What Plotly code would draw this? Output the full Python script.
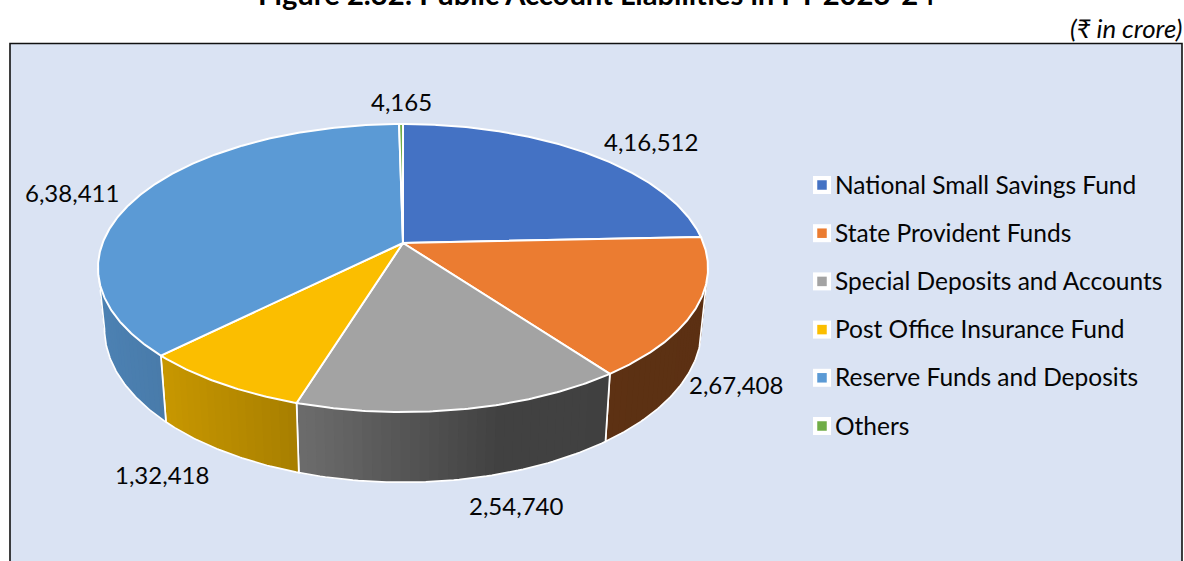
import numpy as np
import plotly.graph_objects as go

# Public account liabilities, FY 2023-24 (in crore of rupees)
categories = [
    "National Small Savings Fund",
    "State Provident Funds",
    "Special Deposits and Accounts",
    "Post Office Insurance Fund",
    "Reserve Funds and Deposits",
    "Others",
]
values = [416512, 267408, 254740, 132418, 638411, 4165]
slice_colors = ["#4472C4", "#EB7C31", "#A3A3A3", "#FBBE00", "#5B9AD5", "#70AD47"]

TITLE = "Figure 2.32: Public Account Liabilities in FY 2023-24"
UNIT_NOTE = "(₹ in crore)"

FONT = "Lato"
LEGEND_SIZE = 24.5
VALUE_SIZE = 24

# Perspective of the tilted disc, in page pixels
CX, CY = 403.0, 243.0
KEYSTONE = 0.1736
TOP_RX, TOP_RY = 300.4, 139.66
BASE_RX, BASE_RY, BASE_CY = 294.0, 149.0, 302.0

# Centres of the value labels, in the order of the slices
label_centres = [(651, 141), (735.5, 384), (516, 505), (162, 474), (72, 192), (401, 101)]

# Legend rows
LEGEND_X = 822
LEGEND_TEXT_X = 833
LEGEND_FIRST_Y = 184
LEGEND_STEP = 48.2


def indian_format(n):
    s = str(n)
    if len(s) <= 3:
        return s
    head, tail = s[:-3], s[-3:]
    groups = []
    while len(head) > 2:
        groups.insert(0, head[-2:])
        head = head[:-2]
    if head:
        groups.insert(0, head)
    return ",".join(groups + [tail])


def rim(theta, rx, ry, cy):
    """Project clockwise-from-north angles onto a receding circle."""
    u, v = np.sin(theta), np.cos(theta)
    w = 1 + KEYSTONE * v
    return CX + rx * u / w, cy - ry * v / w


def top_rim(theta):
    return rim(theta, TOP_RX, TOP_RY, CY)


def base_rim(theta):
    return rim(theta, BASE_RX, BASE_RY, BASE_CY)


def wall_shade(x):
    return np.interp(x, [100, 161, 298, 500, 700], [0.84, 0.80, 0.667, 0.40, 0.39])


def scaled_rgb(hex_color, factor):
    r, g, b = (int(hex_color[i:i + 2], 16) for i in (1, 3, 5))
    return f"rgb({r * factor:.0f},{g * factor:.0f},{b * factor:.0f})"


fractions = np.array(values) / sum(values)
edges = np.concatenate([[0], np.cumsum(fractions)]) * 2 * np.pi

# The wall turns out of sight at these angles, where the rim has its side extremes
WALL_START = np.radians(100)
WALL_END = np.radians(260)
STEP = np.radians(1.5)

fig = go.Figure()

# Side wall: overlapping shaded strips, so the shade can run across each slice
for i, colour in enumerate(slice_colors):
    a = max(edges[i], WALL_START)
    b = min(edges[i + 1], WALL_END)
    if b <= a:
        continue
    ticks = np.linspace(a, b, max(int((b - a) / STEP), 1) + 1)
    for t0, t1 in zip(ticks[:-1], ticks[1:]):
        # each strip reaches into the next one, and the next paints over the overlap
        reach = min(t1 + STEP, b)
        arc = np.linspace(t0, reach, 4)
        tx, ty = top_rim(arc)
        bx, by = base_rim(arc)
        shade = scaled_rgb(colour, wall_shade((tx[0] + tx[1] + bx[0] + bx[1]) / 4))
        fig.add_trace(go.Scatter(
            x=np.concatenate([tx, bx[::-1], tx[:1]]),
            y=np.concatenate([ty, by[::-1], ty[:1]]),
            mode="lines", fill="toself", fillcolor=shade,
            line=dict(width=0),
            hoverinfo="skip", showlegend=False,
        ))
    # White outline along the base and up both ends of the wall
    arc = np.linspace(a, b, 60)
    tx, ty = top_rim(arc)
    bx, by = base_rim(arc)
    fig.add_trace(go.Scatter(
        x=np.concatenate([[tx[0]], bx, [tx[-1]]]),
        y=np.concatenate([[ty[0]], by, [ty[-1]]]),
        mode="lines", line=dict(color="white", width=1.7),
        hoverinfo="skip", showlegend=False,
    ))

# Top face of the disc
for i, colour in enumerate(slice_colors):
    arc = np.linspace(edges[i], edges[i + 1], max(int(np.degrees(edges[i + 1] - edges[i])) * 2, 2))
    rx_, ry_ = top_rim(arc)
    fig.add_trace(go.Scatter(
        x=np.concatenate([[CX], rx_, [CX]]),
        y=np.concatenate([[CY], ry_, [CY]]),
        mode="lines", fill="toself", fillcolor=colour,
        line=dict(color="white", width=2),
        name=categories[i],
        hovertemplate=f"{categories[i]}: {indian_format(values[i])}<extra></extra>",
        showlegend=False,
    ))

# Legend keys: a colour chip on a white tile
rows = [LEGEND_FIRST_Y + 1 + LEGEND_STEP * i for i in range(len(categories))]
fig.add_trace(go.Scatter(
    x=[LEGEND_X] * len(rows), y=rows, mode="markers",
    marker=dict(symbol="square", size=18, color="white"),
    hoverinfo="skip", showlegend=False,
))
fig.add_trace(go.Scatter(
    x=[LEGEND_X] * len(rows), y=rows, mode="markers",
    marker=dict(symbol="square", size=9.5, color=slice_colors),
    hoverinfo="skip", showlegend=False,
))

annotations = []
for name, y in zip(categories, rows):
    annotations.append(dict(
        x=LEGEND_TEXT_X, y=y - 1, text=name, xref="x", yref="y", showarrow=False,
        xanchor="left", yanchor="middle", font=dict(family=FONT, size=LEGEND_SIZE, color="#050505"),
    ))
for value, (lx, ly) in zip(values, label_centres):
    annotations.append(dict(
        x=lx, y=ly, text=indian_format(value), xref="x", yref="y", showarrow=False,
        xanchor="center", yanchor="middle", font=dict(family=FONT, size=VALUE_SIZE, color="#050505"),
    ))
annotations.append(dict(
    x=596, y=13, text=f"<b>{TITLE}</b>", xref="x", yref="y", showarrow=False,
    xanchor="center", yanchor="bottom", font=dict(family=FONT, size=29.2, color="black"),
))
annotations.append(dict(
    x=1183.5, y=28, text=UNIT_NOTE, xref="x", yref="y", showarrow=False,
    xanchor="right", yanchor="middle", font=dict(family=FONT, size=25.8, style="italic", color="#050505"),
))

fig.update_layout(
    width=1184, height=561, margin=dict(l=0, r=0, t=0, b=0),
    paper_bgcolor="white", plot_bgcolor="white", showlegend=False,
    xaxis=dict(range=[0, 1184], visible=False, fixedrange=True),
    yaxis=dict(range=[561, 0], visible=False, fixedrange=True),
    annotations=annotations,
    shapes=[dict(
        type="rect", xref="x", yref="y", x0=10, y0=43.5, x1=1182, y1=620,
        fillcolor="#DAE3F3", line=dict(color="#111111", width=1.6), layer="below",
    )],
)

fig.write_html("out.html")
